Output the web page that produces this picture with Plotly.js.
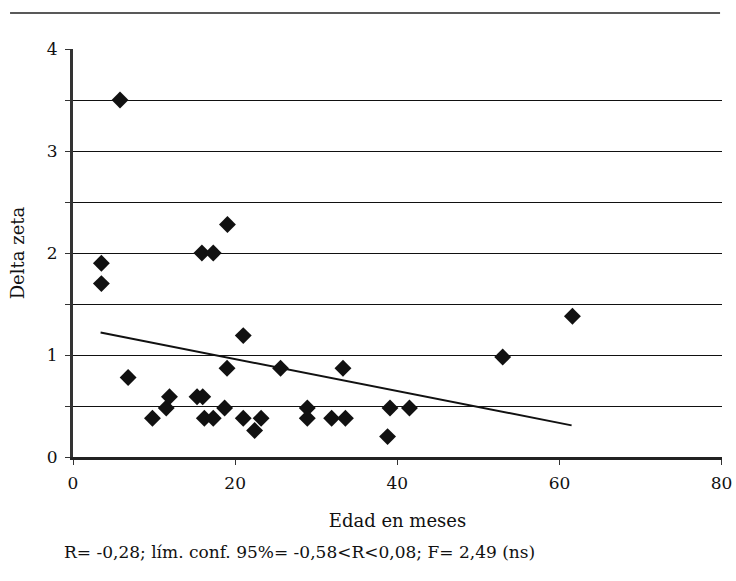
<!DOCTYPE html>
<html>
<head>
<meta charset="utf-8">
<script src="https://cdn.plot.ly/plotly-3.0.1.min.js"></script>
<style>html,body{margin:0;padding:0;background:#fff;}#chart{width:736px;height:581px;}</style>
</head>
<body>
<div id="chart"></div>
<script>
// Data
const edadMeses = [3.5, 3.5, 6.8, 9.8, 11.5, 11.9, 15.3, 16.0, 16.2, 17.3, 15.9, 17.3,
  19.05, 19.0, 18.7, 21.0, 21.0, 22.4, 23.2, 25.6, 28.9, 28.9, 31.9, 33.6, 33.3,
  5.8, 61.6, 53.0, 39.1, 41.5, 38.8];
const deltaZeta = [1.9, 1.7, 0.78, 0.38, 0.48, 0.59, 0.59, 0.59, 0.38, 0.38, 2.0, 2.0,
  2.28, 0.87, 0.48, 1.19, 0.38, 0.26, 0.38, 0.87, 0.48, 0.38, 0.38, 0.38, 0.87,
  3.5, 1.38, 0.98, 0.48, 0.48, 0.2];
const trendX = [3.4, 61.5];
const trendY = [1.22, 0.31];
const xTickVals = [0, 20, 40, 60, 80];
const xTickText = ["0", "20", "40", "60", "80"];
const yTickVals = [0, 0.5, 1, 1.5, 2, 2.5, 3, 3.5, 4];
const yTickText = ["0", "", "1", "", "2", "", "3", "", "4"];
const xTitle = "Edad en meses";
const yTitle = "Delta zeta";
const footer = "R= -0,28; lím. conf. 95%= -0,58<R<0,08; F= 2,49 (ns)";

const serif = "DejaVu Serif, Liberation Serif, serif";

const traces = [
  {
    x: edadMeses, y: deltaZeta, type: "scatter", mode: "markers",
    marker: {symbol: "diamond", size: 13, color: "#111"},
    hoverinfo: "x+y", showlegend: false
  },
  {
    x: trendX, y: trendY, type: "scatter", mode: "lines",
    line: {color: "#111", width: 2}, showlegend: false
  }
];

const layout = {
  width: 736, height: 581,
  margin: {l: 73, r: 14, t: 49, b: 124},
  paper_bgcolor: "#fff", plot_bgcolor: "#fff",
  font: {family: serif, color: "#111", size: 17},
  xaxis: {
    range: [0, 80.05], tickvals: xTickVals, ticktext: xTickText,
    showgrid: false, zeroline: false,
    showline: true, linecolor: "#222", linewidth: 2.5,
    ticks: "outside", ticklen: 5, tickcolor: "#333", tickwidth: 1,
    ticklabelstandoff: 4,
    tickfont: {family: serif, size: 17, color: "#111"},
    title: {text: xTitle, font: {family: serif, size: 18, color: "#111"}, standoff: 23},
    automargin: false
  },
  yaxis: {
    range: [0, 4], tickvals: yTickVals, ticktext: yTickText,
    showgrid: true, gridcolor: "#111", gridwidth: 1, zeroline: false,
    showline: true, linecolor: "#333", linewidth: 3,
    ticks: "outside", ticklen: 5, tickcolor: "#333", tickwidth: 1,
    ticklabelstandoff: 4,
    tickfont: {family: serif, size: 17, color: "#111"},
    title: {text: yTitle, font: {family: serif, size: 18, color: "#111"}, standoff: 18},
    automargin: false
  },
  shapes: [
    {type: "line", xref: "paper", yref: "paper",
     x0: -0.097, x1: 0.997, y0: 1.088, y1: 1.088,
     line: {color: "#222", width: 1.5}}
  ],
  annotations: [
    {text: footer, xref: "paper", yref: "paper", x: -0.017, y: -0.233,
     xanchor: "left", yanchor: "middle", showarrow: false,
     font: {family: serif, size: 17, color: "#111"}}
  ]
};

Plotly.newPlot("chart", traces, layout, {displayModeBar: false, staticPlot: true});
</script>
</body>
</html>
